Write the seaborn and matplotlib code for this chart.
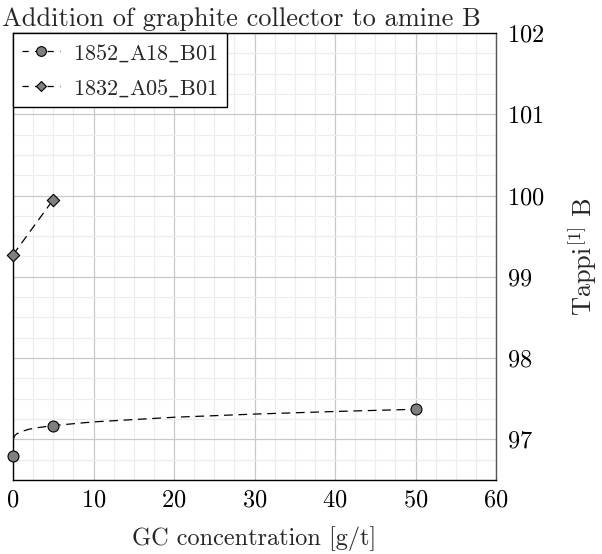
import numpy as np
import pandas as pd
import matplotlib
matplotlib.use("Agg")
import matplotlib.pyplot as plt
from matplotlib.lines import Line2D
from matplotlib.ticker import MultipleLocator
import seaborn as sns

# ---- data ----
s1_name = "1852_A18_B01"
s1_x = [0, 5, 50]
s1_y = [96.80, 97.17, 97.37]
# trend curve for series 1
trend_x = [0, 0.25, 0.5, 1, 2, 3, 5, 10, 20, 30, 40, 50]
trend_y = [97.00, 97.05, 97.07, 97.095, 97.125, 97.143, 97.17, 97.215, 97.272, 97.311, 97.343, 97.37]

s2_name = "1832_A05_B01"
s2_x = [0, 5]
s2_y = [99.27, 99.95]

x_ticks = [0, 10, 20, 30, 40, 50, 60]
y_ticks = [97, 98, 99, 100, 101, 102]

title = "Addition of graphite collector to amine B"
xlabel = "GC concentration [g/t]"
ylabel = r"Tappi$^{\mathrm{[1]}}$ B"

sns.set_theme(style="white")
plt.rcParams["font.family"] = ["serif"]
plt.rcParams["font.serif"] = ["cmr10", "DejaVu Serif"]
plt.rcParams["mathtext.fontset"] = "cm"
plt.rcParams["axes.formatter.use_mathtext"] = True


def tex_label(s):
    return r"$\mathrm{" + s.replace("_", r"\_") + "}$"


fig = plt.figure(figsize=(6.02, 5.54), dpi=100)
ax = fig.add_axes([13/602, 1-480/554, (496-13)/602, (480-33)/554])

df1 = pd.DataFrame({"x": s1_x, "y": s1_y})
dft = pd.DataFrame({"x": trend_x, "y": trend_y})
df2 = pd.DataFrame({"x": s2_x, "y": s2_y})

dash = (7, 4.5)
lw = 0.9
sns.lineplot(data=dft, x="x", y="y", ax=ax, color="black", lw=lw, zorder=3)
ax.lines[-1].set_dashes(dash)
sns.lineplot(data=df2, x="x", y="y", ax=ax, color="black", lw=lw, zorder=3)
ax.lines[-1].set_dashes(dash)
sns.scatterplot(data=df1, x="x", y="y", ax=ax, marker="o", s=62,
                color="#7f7f7f", edgecolor="black", linewidth=0.8, zorder=4, clip_on=False)
sns.scatterplot(data=df2, x="x", y="y", ax=ax, marker="D", s=40,
                color="#7f7f7f", edgecolor="black", linewidth=0.8, zorder=4, clip_on=False)

ax.set_xlim(0, 60)
ax.set_ylim(96.5, 102)
ax.set_xticks(x_ticks)
ax.set_yticks(y_ticks)
ax.xaxis.set_minor_locator(MultipleLocator(2.5))
ax.yaxis.set_minor_locator(MultipleLocator(0.25))
ax.grid(which="major", color="#c8c8c8", lw=0.9)
ax.grid(which="minor", color="#ececec", lw=0.8)
ax.set_axisbelow(True)

ax.yaxis.tick_right()
ax.yaxis.set_label_position("right")
ax.tick_params(which="both", length=0, labelsize=17.5, colors="black")
ax.tick_params(axis="x", pad=7)
ax.tick_params(axis="y", pad=8)

for sp in ax.spines.values():
    sp.set_visible(True)
    sp.set_color("black")
    sp.set_linewidth(1.0)
ax.spines["right"].set_color("#555555")

ax.set_title(title, fontsize=19, pad=5, loc="left", x=-0.022)
ax.set_xlabel(xlabel, fontsize=17.5, labelpad=10)
ax.set_ylabel(r"Tappi$^{\mathregular{[1]}}$ B", fontsize=19, labelpad=15)

handles = [
    Line2D([], [], color="black", lw=lw, dashes=(5, 5), marker="o", markersize=7,
           markerfacecolor="#7f7f7f", markeredgecolor="black", markeredgewidth=0.8),
    Line2D([], [], color="black", lw=lw, dashes=(5, 5), marker="D", markersize=5.5,
           markerfacecolor="#7f7f7f", markeredgecolor="black", markeredgewidth=0.8),
]
leg = ax.legend(handles, [tex_label(s1_name), tex_label(s2_name)], loc="upper left",
                fontsize=16, frameon=True, fancybox=False, framealpha=1,
                edgecolor="black", borderaxespad=0, handlelength=1.7,
                handletextpad=0.6, borderpad=0.4, labelspacing=0.6)
leg.get_frame().set_linewidth(1.0)

fig.savefig("out.png", dpi=100)
